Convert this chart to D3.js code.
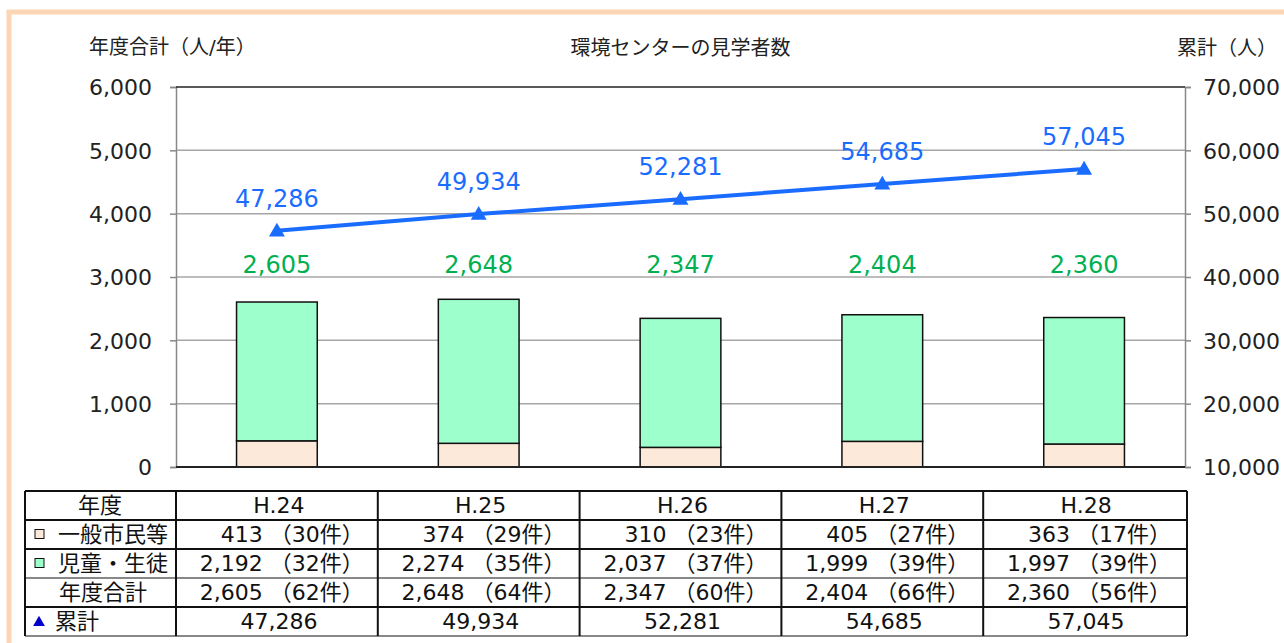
<!DOCTYPE html>
<html>
<head>
<meta charset="utf-8">
<script src="https://cdn.jsdelivr.net/npm/d3@7"></script>
<style>
  body { margin: 0; background: #fff; }
  text { font-family: "DejaVu Sans", "Noto Sans CJK JP", sans-serif; }
</style>
</head>
<body>
<div id="chart"></div>
<script>
// data
const years = ["H.24", "H.25", "H.26", "H.27", "H.28"];
const general = [413, 374, 310, 405, 363];          // 一般市民等
const generalCases = [30, 29, 23, 27, 17];
const students = [2192, 2274, 2037, 1999, 1997];    // 児童・生徒
const studentCases = [32, 35, 37, 39, 39];
const totals = [2605, 2648, 2347, 2404, 2360];      // 年度合計
const totalCases = [62, 64, 60, 66, 56];
const cumulative = [47286, 49934, 52281, 54685, 57045]; // 累計
const leftTicks = [0, 1000, 2000, 3000, 4000, 5000, 6000];
const rightTicks = [10000, 20000, 30000, 40000, 50000, 60000, 70000];

const WIDTH = 1284, HEIGHT = 643;
const PLOT = { left: 176, right: 1185, top: 87, bottom: 467 };
const fmt = d3.format(",");

const svg = d3.select("#chart")
  .append("svg")
  .attr("width", WIDTH)
  .attr("height", HEIGHT);

// outer peach frame
svg.append("rect")
  .attr("x", 9).attr("y", 12)
  .attr("width", WIDTH + 20).attr("height", HEIGHT + 20)
  .attr("fill", "none")
  .attr("stroke", "#fcd5b4")
  .attr("stroke-width", 5);

// scales
const x = d3.scaleBand()
  .domain(years)
  .range([PLOT.left, PLOT.right]);

const y = d3.scaleLinear()
  .domain([0, 6000])
  .range([PLOT.bottom, PLOT.top]);

const y2 = d3.scaleLinear()
  .domain([10000, 70000])
  .range([PLOT.bottom, PLOT.top]);

const barW = x.bandwidth() * 0.4;

// gridlines
svg.append("g")
  .selectAll("line")
  .data(leftTicks.slice(1, -1))
  .join("line")
  .attr("x1", PLOT.left).attr("x2", PLOT.right)
  .attr("y1", d => y(d)).attr("y2", d => y(d))
  .attr("stroke", "#a6a6a6")
  .attr("stroke-width", 1.5);

// left axis
const leftAxis = svg.append("g")
  .attr("transform", `translate(${PLOT.left},0)`)
  .call(d3.axisLeft(y).tickValues(leftTicks).tickFormat(fmt).tickSize(6).tickPadding(18));
leftAxis.select(".domain").attr("stroke", "#888").attr("stroke-width", 1.5);
leftAxis.selectAll(".tick line").attr("stroke", "#888").attr("stroke-width", 1.5);
leftAxis.selectAll("text").attr("font-size", 22).attr("fill", "#222").attr("dy", "0.35em");

// right axis
const rightAxis = svg.append("g")
  .attr("transform", `translate(${PLOT.right},0)`)
  .call(d3.axisRight(y2).tickValues(rightTicks).tickFormat(fmt).tickSize(6).tickPadding(12));
rightAxis.select(".domain").attr("stroke", "#888").attr("stroke-width", 1.5);
rightAxis.selectAll(".tick line").attr("stroke", "#888").attr("stroke-width", 1.5);
rightAxis.selectAll("text").attr("font-size", 22).attr("fill", "#222").attr("dy", "0.35em");

// top and bottom borders of plot
svg.append("line")
  .attr("x1", PLOT.left).attr("x2", PLOT.right)
  .attr("y1", y(6000)).attr("y2", y(6000))
  .attr("stroke", "#222").attr("stroke-width", 1.5);

// stacked bars
svg.append("g")
  .selectAll("rect")
  .data(years)
  .join("rect")
  .attr("x", d => x(d) + (x.bandwidth() - barW) / 2)
  .attr("y", (d, i) => y(general[i]))
  .attr("width", barW)
  .attr("height", (d, i) => y(0) - y(general[i]))
  .attr("fill", "#fde9d9")
  .attr("stroke", "#111")
  .attr("stroke-width", 1.5);

svg.append("g")
  .selectAll("rect")
  .data(years)
  .join("rect")
  .attr("x", d => x(d) + (x.bandwidth() - barW) / 2)
  .attr("y", (d, i) => y(general[i] + students[i]))
  .attr("width", barW)
  .attr("height", (d, i) => y(general[i]) - y(general[i] + students[i]))
  .attr("fill", "#9dffcc")
  .attr("stroke", "#111")
  .attr("stroke-width", 1.5);

svg.append("line")
  .attr("x1", PLOT.left).attr("x2", PLOT.right)
  .attr("y1", y(0)).attr("y2", y(0))
  .attr("stroke", "#222").attr("stroke-width", 2);

// total labels (green), shown at a common level above the bars
svg.append("g")
  .selectAll("text")
  .data(totals)
  .join("text")
  .attr("x", (d, i) => x(years[i]) + x.bandwidth() / 2)
  .attr("y", y(3000) - 4)
  .attr("text-anchor", "middle")
  .attr("font-size", 24)
  .attr("fill", "#00b050")
  .text(d => fmt(d));

// cumulative line
const line = d3.line()
  .x((d, i) => x(years[i]) + x.bandwidth() / 2)
  .y(d => y2(d));

svg.append("path")
  .datum(cumulative)
  .attr("d", line)
  .attr("fill", "none")
  .attr("stroke", "#1a6cff")
  .attr("stroke-width", 4);

svg.append("g")
  .selectAll("path")
  .data(cumulative)
  .join("path")
  .attr("d", d3.symbol(d3.symbolTriangle, 110))
  .attr("transform", (d, i) => `translate(${x(years[i]) + x.bandwidth() / 2},${y2(d) + 1})`)
  .attr("fill", "#1a6cff");

svg.append("g")
  .selectAll("text")
  .data(cumulative)
  .join("text")
  .attr("x", (d, i) => x(years[i]) + x.bandwidth() / 2)
  .attr("y", d => y2(d) - 24)
  .attr("text-anchor", "middle")
  .attr("font-size", 24)
  .attr("fill", "#1a6cff")
  .text(d => fmt(d));

// titles
svg.append("text")
  .attr("x", 89).attr("y", 54)
  .attr("font-size", 20).attr("fill", "#222")
  .text("年度合計（人/年）");

svg.append("text")
  .attr("x", (PLOT.left + PLOT.right) / 2).attr("y", 55)
  .attr("text-anchor", "middle")
  .attr("font-size", 20).attr("fill", "#222")
  .text("環境センターの見学者数");

svg.append("text")
  .attr("x", 1277).attr("y", 55)
  .attr("text-anchor", "end")
  .attr("font-size", 20).attr("fill", "#222")
  .text("累計（人）");

// data table
const rowNames = ["年度", "一般市民等", "児童・生徒", "年度合計", "累計"];
const TABLE = { left: 25, top: 491, bottom: 636 };
const row = d3.scaleBand().domain(rowNames).range([TABLE.top, TABLE.bottom]);
const table = svg.append("g");

const caseText = (v, c) => `${fmt(v)} （${c}件）`;
const cells = [
  years,
  general.map((v, i) => caseText(v, generalCases[i])),
  students.map((v, i) => caseText(v, studentCases[i])),
  totals.map((v, i) => caseText(v, totalCases[i])),
  cumulative.map(fmt)
];

rowNames.forEach((name, r) => {
  const anchor = (r === 0 || r === 4) ? "middle" : "end";
  table.selectAll(null)
    .data(cells[r])
    .join("text")
    .attr("x", (d, i) => anchor === "middle" ? x(years[i]) + x.bandwidth() / 2 + 2 : x(years[i]) + x.bandwidth() - 14)
    .attr("y", row(name) + row.bandwidth() / 2)
    .attr("dy", "0.36em")
    .attr("text-anchor", anchor)
    .attr("font-size", 22)
    .attr("fill", "#111")
    .text(d => d);
});

// first column labels
const labelX = [100, 58, 58, 59, 55];
table.selectAll(null)
  .data(rowNames)
  .join("text")
  .attr("x", (d, i) => labelX[i])
  .attr("y", d => row(d) + row.bandwidth() / 2)
  .attr("dy", "0.36em")
  .attr("text-anchor", (d, i) => i === 0 ? "middle" : "start")
  .attr("font-size", 22)
  .attr("fill", "#111")
  .text(d => d);

// legend keys inside the table
table.append("rect")
  .attr("x", 35).attr("y", row("一般市民等") + row.bandwidth() / 2 - 5)
  .attr("width", 9).attr("height", 9)
  .attr("fill", "#fde9d9").attr("stroke", "#111");
table.append("rect")
  .attr("x", 35).attr("y", row("児童・生徒") + row.bandwidth() / 2 - 5)
  .attr("width", 9).attr("height", 9)
  .attr("fill", "#9dffcc").attr("stroke", "#111");
table.append("path")
  .attr("d", d3.symbol(d3.symbolTriangle, 60))
  .attr("transform", `translate(39,${row("累計") + row.bandwidth() / 2 + 1})`)
  .attr("fill", "#0000cc");

// grid lines of table
const rowEdges = rowNames.map(d => row(d)).concat([TABLE.bottom]);
table.selectAll(null)
  .data(rowEdges)
  .join("line")
  .attr("x1", TABLE.left).attr("x2", PLOT.right + 2)
  .attr("y1", d => d).attr("y2", d => d)
  .attr("stroke", (d, i) => (i === 3 || i === 5) ? "#888" : "#111")
  .attr("stroke-width", 2);

const colEdges = [TABLE.left].concat(years.map(d => x(d))).concat([PLOT.right + 2]);
table.selectAll(null)
  .data(colEdges)
  .join("line")
  .attr("x1", d => d).attr("x2", d => d)
  .attr("y1", TABLE.top).attr("y2", TABLE.bottom)
  .attr("stroke", "#111")
  .attr("stroke-width", 2);
</script>
</body>
</html>
